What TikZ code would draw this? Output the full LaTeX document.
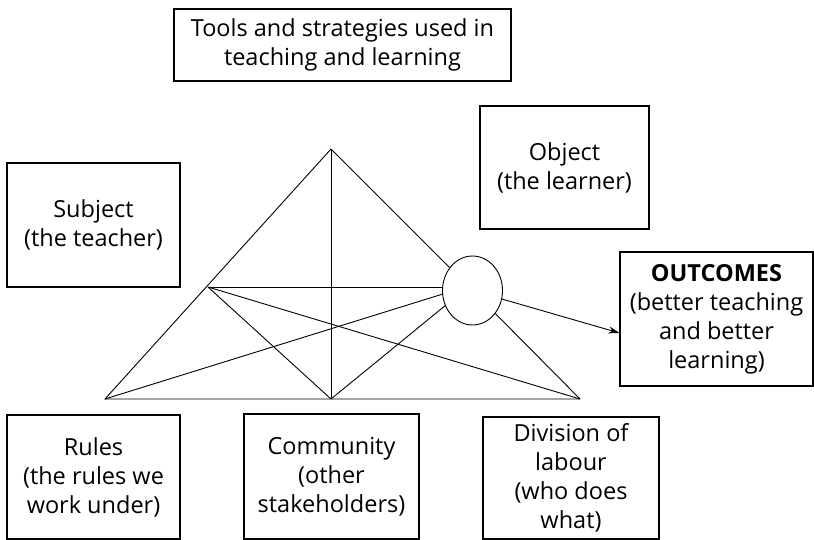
\documentclass[tikz,border=0pt]{standalone}
\usepackage{fontspec}
\setmainfont{Open Sans}
\usetikzlibrary{shapes.geometric,arrows.meta,calc}
\begin{document}
\begin{tikzpicture}[x=1pt,y=-1pt,
  box/.style={draw,line width=1.1pt,inner sep=0pt,align=center,
    font=\fontsize{23.5}{29}\selectfont},
  ln/.style={line width=0.9pt},
  arr/.style={line width=0.9pt,-{Stealth[length=11pt,width=7pt]}}]
\useasboundingbox (0,0) rectangle (814,540);
% boxes
\node[box,minimum width=337pt,minimum height=72pt] (tools) at (342.5,45)
  {Tools and strategies used in\\teaching and learning};
\node[box,minimum width=173pt,minimum height=124pt] (subject) at (93.5,225)
  {Subject\\(the teacher)};
\node[box,minimum width=169pt,minimum height=123pt] (object) at (564.5,167.5)
  {Object\\(the learner)};
\node[box,minimum width=193pt,minimum height=134pt] (out) at (716.5,319)
  {\textbf{OUTCOMES}\\(better teaching\\and better\\learning)};
\node[box,minimum width=173pt,minimum height=124pt] (rules) at (93.5,477)
  {Rules\\(the rules we\\work under)};
\node[box,minimum width=175pt,minimum height=125pt] (comm) at (331.5,476.5)
  {Community\\(other\\stakeholders)};
\node[box,minimum width=176pt,minimum height=122pt] (div) at (571,478)
  {Division of\\labour\\(who does\\what)};
% triangle points
\coordinate (A) at (331,149);
\coordinate (L) at (105,399);
\coordinate (M) at (331,399);
\coordinate (R) at (580,399);
\coordinate (P) at (208,287);
\node[ellipse,draw,line width=0.9pt,minimum width=60pt,minimum height=69pt,inner sep=0pt] (E) at (472.5,290.5) {};
% lines
\draw[ln,line join=miter] (A) -- (L) -- (R);
\draw[ln] (A) -- (M);
\draw[ln] (A) -- (E);
\draw[ln] (E) -- (R);
\draw[ln] (P) -- (P -| E.west);
\draw[ln] (P) -- (R);
\draw[ln] (P) -- (M);
\draw[ln] (L) -- (E.187);
\draw[ln] (M) -- (E.209);
\draw[arr] (E) -- ($(out.west)+(0,14)$);
\end{tikzpicture}
\end{document}
